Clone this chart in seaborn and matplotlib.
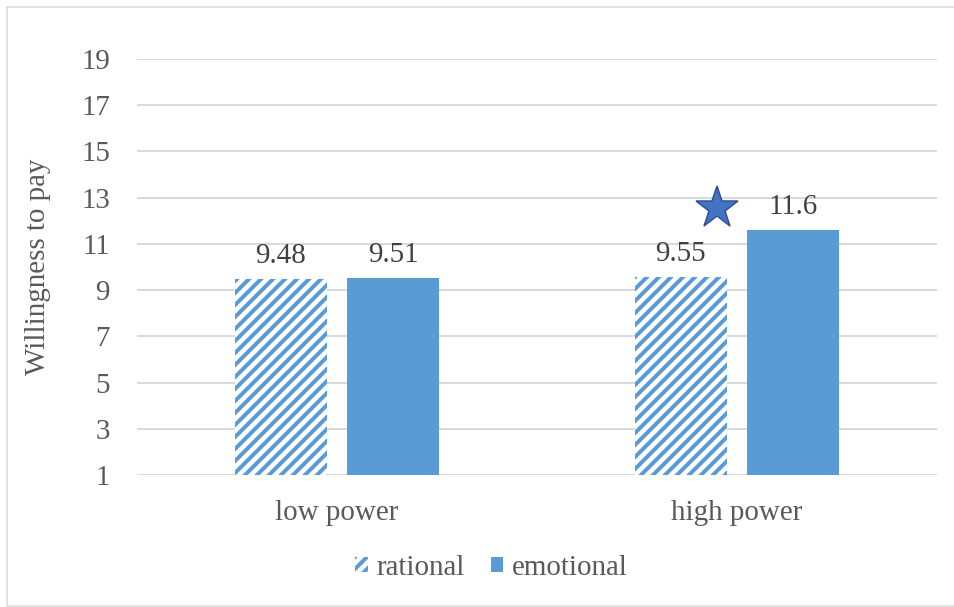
import matplotlib
matplotlib.use("Agg")
import matplotlib.pyplot as plt
from matplotlib.patches import Patch
from matplotlib.lines import Line2D
import seaborn as sns
import pandas as pd

# Data
categories = ["low power", "high power"]
appeals = ["rational", "emotional"]
rational_wtp = [9.48, 9.55]
emotional_wtp = [9.51, 11.6]
y_ticks = [1, 3, 5, 7, 9, 11, 13, 15, 17, 19]
star_position = (0.951, 12.57)  # significance marker in data coords

df = pd.DataFrame({
    "power": categories * 2,
    "appeal": [appeals[0]] * 2 + [appeals[1]] * 2,
    "wtp": rational_wtp + emotional_wtp,
})

BLUE = "#5B9BD5"
GRID = "#D9D9D9"
TICK = "#595959"
LABEL = "#404040"
FS = 29

sns.set_theme(style="white")
plt.rcParams["font.family"] = ["Liberation Serif", "DejaVu Serif"]
plt.rcParams["hatch.linewidth"] = 4.0

DPI = 72
fig = plt.figure(figsize=(954 / DPI, 607 / DPI), dpi=DPI)
ax = fig.add_axes([137 / 954, 1 - 475 / 607, 800 / 954, 416 / 607])

sns.barplot(data=df, x="power", y="wtp", hue="appeal", order=categories,
            hue_order=appeals, palette=[BLUE, BLUE], width=0.564, gap=0.184,
            saturation=1, linewidth=0, ax=ax, legend=False)

# Rational bars: diagonal stripes on white
for bar in ax.containers[0]:
    bar.set_facecolor("white")
    bar.set_edgecolor(BLUE)
    bar.set_hatch("//")
    bar.set_linewidth(0)

for cont in ax.containers:
    ax.bar_label(cont, fmt="%g", padding=10, fontsize=FS, color=LABEL)

ax.set_ylim(1, 19)
ax.set_xlim(-0.5, 1.5)
ax.set_yticks(y_ticks)
ax.yaxis.grid(True, color=GRID, linewidth=2)
ax.set_axisbelow(True)
for s in ax.spines.values():
    s.set_visible(False)
ax.tick_params(axis="y", length=0, pad=27, labelsize=FS, labelcolor=TICK)
ax.tick_params(axis="x", length=0, pad=25, labelsize=FS, labelcolor=TICK)
ax.set_xlabel("")
ax.set_ylabel("Willingness to pay", fontsize=FS, color=TICK, labelpad=30)

# Significance star
ax.plot(*star_position, marker="*", markersize=44, markerfacecolor="#4472C4",
        markeredgecolor="#2F528F", markeredgewidth=1.5, clip_on=False)

handles = [
    Patch(facecolor="white", edgecolor=BLUE, hatch="//", linewidth=0, label=appeals[0]),
    Patch(facecolor=BLUE, edgecolor=BLUE, linewidth=0, label=appeals[1]),
]
leg = fig.legend(handles=handles, loc="center", bbox_to_anchor=(491.5 / 954, 1 - 568 / 607),
                 ncol=2, frameon=False, fontsize=FS, handlelength=0.42, handleheight=0.42,
                 handletextpad=0.3, columnspacing=0.9)
for t in leg.get_texts():
    t.set_color(TICK)

# Outer frame
for xs, ys in [((6.5, 6.5), (7, 605.5)), ((6.5, 954), (7, 7)), ((6.5, 954), (605.5, 605.5))]:
    fig.add_artist(Line2D([x / 954 for x in xs], [1 - y / 607 for y in ys],
                          color=GRID, linewidth=1.5, transform=fig.transFigure))

fig.savefig("out.png", dpi=DPI)
